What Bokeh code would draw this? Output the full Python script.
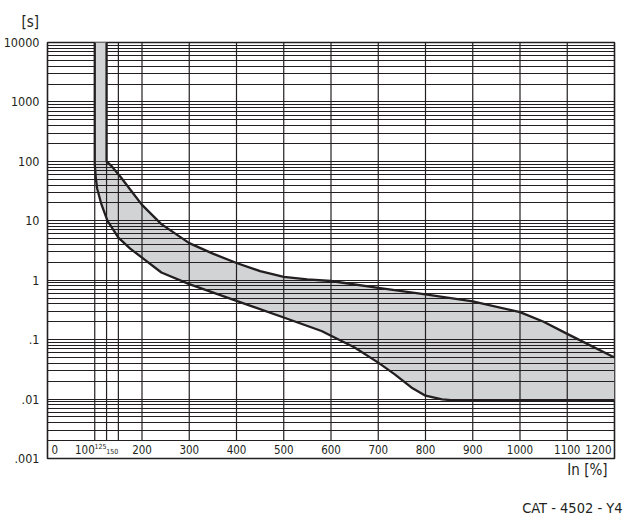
from bokeh.plotting import figure
from bokeh.models import FixedTicker, ColumnDataSource, Title
from bokeh.core.properties import value
from bokeh.embed import file_html
from bokeh.resources import INLINE

# ---------------- data ----------------
# upper (right) boundary of the tripping band: current In [%] vs time [s]
upper_x = [125, 125, 135, 156, 177, 200, 241, 300, 350, 400, 450, 500, 550, 600,
           700, 800, 900, 1000, 1050, 1100, 1200]
upper_t = [10000, 100, 84, 53, 32, 18.5, 8.8, 4.2, 2.8, 1.95, 1.42, 1.14, 1.03, 0.97,
           0.74, 0.58, 0.44, 0.29, 0.20, 0.125, 0.05]

# lower (left) boundary
lower_x = [100, 100, 102, 105, 114, 127, 150, 175, 200, 241, 300, 400, 500, 580, 600,
           650, 700, 735, 770, 800, 835, 860, 1200]
lower_t = [10000, 90, 55, 35, 19, 10, 5.2, 3.4, 2.4, 1.35, 0.86, 0.45, 0.236, 0.14, 0.116,
           0.074, 0.041, 0.026, 0.0157, 0.0114, 0.0099, 0.0095, 0.0095]

# axes
y_ticks = [0.001, 0.01, 0.1, 1, 10, 100, 1000, 10000]
y_labels = [".001", ".01", ".1", "1", "10", "100", "1000", "10000"]

x_ticks = [0, 100, 200, 300, 400, 500, 600, 700, 800, 900, 1000, 1100, 1200]
x_labels = ["0", "100", "200", "300", "400", "500", "600", "700", "800", "900",
            "1000", "1100", "1200"]
x_small_ticks = [125, 150]
x_small_labels = ["125", "150"]

x_grid = [100, 125, 150, 200, 300, 400, 500, 600, 700, 800, 900, 1000, 1100]

FONT = "DejaVu Sans Condensed, sans-serif"
INK = "#231f20"
FILL = "#d1d3d4"

X_MIN, X_MAX = 0, 1200
Y_MIN, Y_MAX = y_ticks[0], y_ticks[-1]

p = figure(width=626, height=520, x_range=(X_MIN, X_MAX), y_range=(Y_MIN, Y_MAX),
           y_axis_type="log", output_backend="svg", toolbar_location=None, title=None,
           min_border_left=46, min_border_right=12, min_border_top=42, min_border_bottom=62)

p.background_fill_color = "white"
p.border_fill_color = "white"
p.outline_line_color = INK
p.outline_line_width = 1.6

# horizontal log grid (1..9 x each decade)
minor = []
for d in y_ticks[:-1]:
    for m in range(1, 10):
        minor.append(m * d)
minor.append(Y_MAX)
p.ygrid.ticker = FixedTicker(ticks=minor)
p.ygrid.grid_line_color = INK
p.ygrid.grid_line_width = 1.2
p.ygrid.grid_line_alpha = 1.0
p.xgrid.visible = False
p.xaxis.visible = False

# y axis
yax = p.yaxis[0]
yax.ticker = FixedTicker(ticks=y_ticks)
yax.major_label_overrides = dict(zip(y_ticks, y_labels))
yax.axis_line_color = None
yax.major_tick_line_color = None
yax.minor_tick_line_color = None
yax.major_tick_out = 0
yax.major_tick_in = 0
yax.minor_tick_out = 0
yax.major_label_standoff = 8
yax.major_label_text_font = FONT
yax.major_label_text_font_size = "12.5px"
yax.major_label_text_color = INK
yax.major_label_text_baseline = "alphabetic"

# band fill (below grid)
band_x = upper_x + lower_x[::-1]
band_t = upper_t + lower_t[::-1]
p.patch(band_x, band_t, fill_color=FILL, line_color=None, level="image")

# vertical grid lines stop above the label strip
label_strip_top = 2 * Y_MIN
p.segment(x0=x_grid, y0=[label_strip_top] * len(x_grid), x1=x_grid, y1=[Y_MAX] * len(x_grid),
          line_color=INK, line_width=1.2, level="underlay")

# vertical part of the band covers the grid
p.quad(left=[lower_x[0]], right=[upper_x[0]], bottom=[upper_t[1]], top=[upper_t[0]],
       fill_color=FILL, line_color=None)

# curves
p.line(upper_x, upper_t, line_color=INK, line_width=2.3, line_join="round")
p.line(lower_x, lower_t, line_color=INK, line_width=2.3, line_join="round")

# x tick labels inside the bottom strip
y_lab = (Y_MIN * label_strip_top) ** 0.5
n = len(x_ticks)
aligns = ["left", "right"] + ["center"] * (n - 3) + ["right"]
xoffs = [4, 0] + [0] * (n - 3) + [-3]
src = ColumnDataSource(dict(x=x_ticks, y=[y_lab] * n, text=x_labels, align=aligns, xo=xoffs))
p.text(x="x", y="y", text="text", source=src, text_align="align", x_offset="xo",
       text_baseline="middle", text_font=value(FONT), text_font_size="11.5px", text_color=INK)

src2 = ColumnDataSource(dict(x=x_small_ticks, y=[y_lab] * len(x_small_ticks), text=x_small_labels,
                             yo=[-4, 1]))
p.text(x="x", y="y", text="text", source=src2, text_align="right", x_offset=0, y_offset="yo",
       text_baseline="middle", text_font=value(FONT), text_font_size="7px", text_color=INK)

# captions (side panels)
p.add_layout(Title(text="[s]", align="left", offset=-26, vertical_align="top", standoff=20,
                   text_font=FONT, text_font_size="15px", text_font_style="normal",
                   text_color=INK), "above")
p.add_layout(Title(text="In [%]", align="right", offset=7, vertical_align="top", standoff=5,
                   text_font=FONT, text_font_size="15px", text_font_style="normal",
                   text_color=INK), "below")
p.add_layout(Title(text="\nCAT - 4502 - Y4", align="right", offset=-8, vertical_align="top",
                   standoff=0, text_line_height=1.0,
                   text_font=FONT, text_font_size="14.5px", text_font_style="normal",
                   text_color=INK), "below")

open("out.html", "w").write(file_html(p, INLINE))
